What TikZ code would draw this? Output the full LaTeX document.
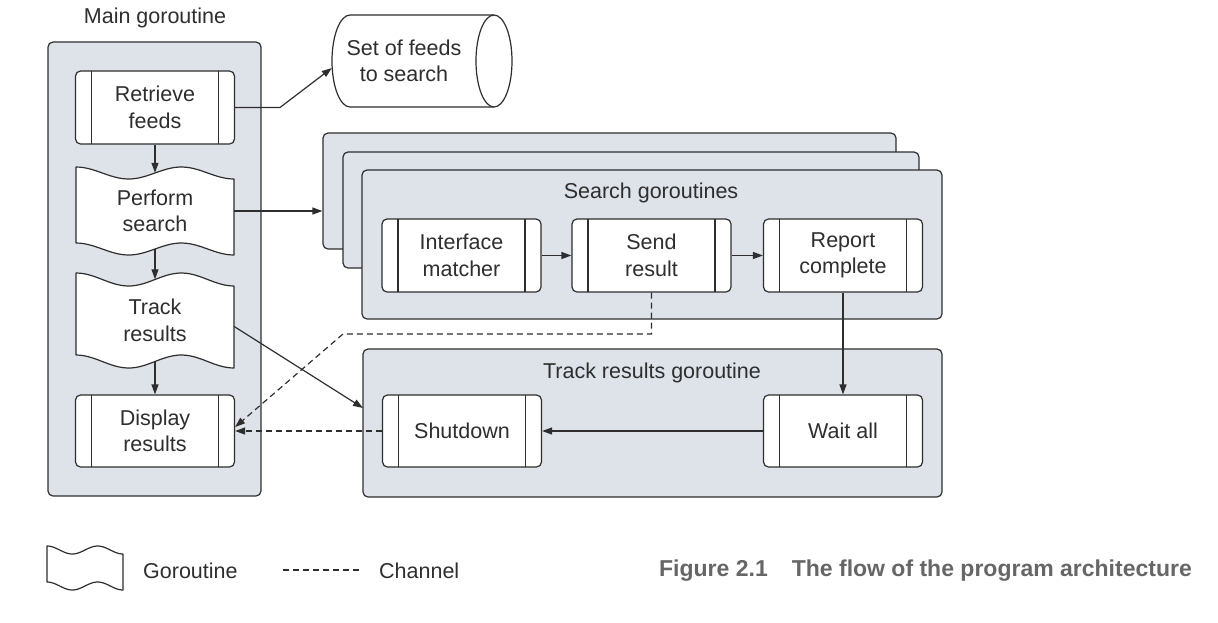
\documentclass[tikz,border=0pt]{standalone}
\usepackage{fontspec}
\setmainfont{Liberation Sans}
\usetikzlibrary{arrows.meta,calc}
\definecolor{gofill}{HTML}{DEE2E9}
\definecolor{ink}{HTML}{2E2E2E}
\definecolor{capgray}{HTML}{666666}
\newcommand\mainfs{\fontsize{21.5}{26.5}\selectfont}
\newcommand\capfs{\fontsize{23}{27}\selectfont\bfseries}
\newcommand\goshape[5]{%
  \filldraw[wave] plot[domain=0:1,samples=41] ({#1+\x*#3},{#2+#5*(1-cos(540*\x))/2})
   -- plot[domain=1:0,samples=41] ({#1+\x*#3},{#2+#4+#5*(1-cos(540*\x))/2}) -- cycle;}
\begin{document}
\begin{tikzpicture}[x=1pt,y=-1pt,
  every node/.style={text=ink,font=\mainfs},
  grp/.style={draw=ink,fill=gofill,rounded corners=5pt,line width=1.2pt,inner sep=0pt},
  proc/.style={draw=ink,fill=white,rounded corners=5pt,line width=1.2pt,inner sep=0pt,
    minimum width=159pt,minimum height=73pt,align=center,
    path picture={\draw[ink,line width=1.2pt]
      ([xshift=16pt]path picture bounding box.north west) -- ([xshift=16pt]path picture bounding box.south west)
      ([xshift=-16pt]path picture bounding box.north east) -- ([xshift=-16pt]path picture bounding box.south east);}},
  wave/.style={draw=ink,fill=white,line width=1.2pt,line join=round},
  txtbox/.style={inner sep=0pt,align=center},
  flow/.style={draw=ink,line width=1.2pt,-{Triangle[length=10pt,width=7pt]}},
  chan/.style={flow,dash pattern=on 6pt off 4pt},
]
\useasboundingbox (0,0) rectangle (1218,622);

% main goroutine
\node[grp,minimum width=213pt,minimum height=454pt] (maingrp) at (154.5,269) {};
\node (mainlbl) at (155,18) {Main goroutine};

% feeds cylinder
\filldraw[wave] (494,15) -- (350,15) .. controls (340.06,15) and (332,35.6) .. (332,61)
   .. controls (332,86.4) and (340.06,107) .. (350,107) -- (494,107);
\filldraw[wave] (494,61) ellipse [x radius=18, y radius=46];
\node[txtbox,minimum width=144pt,minimum height=92pt] (feeds) at (404,61) {Set of feeds\\to search};

% main steps
\node[proc] (retrieve) at (155,107.5) {Retrieve\\feeds};
\goshape{76}{167}{158}{76}{12}
\node[txtbox,minimum width=158pt,minimum height=76pt] (perform) at (155,211) {Perform\\search};
\goshape{76}{273}{158}{82}{13}
\node[txtbox,minimum width=158pt,minimum height=82pt] (track) at (155,320.5) {Track\\results};
\node[proc,minimum height=72pt] (display) at (155,431) {Display\\results};

% search goroutines stack
\node[grp,minimum width=573pt,minimum height=116pt] (searchback) at (609.5,191) {};
\node[grp,minimum width=576pt,minimum height=116pt] (searchmid) at (631,210) {};
\node[grp,minimum width=580pt,minimum height=149pt] (searchfront) at (652,244.5) {};
\node (searchlbl) at (651,193) {Search goroutines};
\node[proc] (interface) at (461.5,255.5) {Interface\\matcher};
\node[proc] (send) at (651.5,255.5) {Send\\result};
\node[proc] (report) at (843,255.5) {Report\\complete};

% track results goroutine
\node[grp,minimum width=579pt,minimum height=148pt] (trackgrp) at (652.5,423) {};
\node (tracklbl) at (652,373) {Track results goroutine};
\node[proc,minimum height=72pt] (shutdown) at (462,431) {Shutdown};
\node[proc,minimum height=72pt] (waitall) at (843,431) {Wait all};

% connectors
\coordinate (bend1) at (280,107.5);
\draw[flow] (retrieve.east) -- (bend1) -- ([yshift=-7pt]feeds.west);
\draw[flow] (retrieve.south) -- (perform.north);
\draw[flow] (perform.south) -- (track.north);
\draw[flow] (track.south) -- (display.north);
\draw[flow] (perform.east) -- (perform.east -| searchback.west);
\coordinate (trin) at (363,408);
\draw[flow] ([yshift=-6pt]track.east) -- (trin);
\draw[flow] (interface.east) -- (send.west);
\draw[flow] (send.east) -- (report.west);
\draw[flow] (report.south) -- (waitall.north);
\draw[flow] (waitall.west) -- (shutdown.east);
\draw[chan] (shutdown.west) -- (display.east);
\coordinate (ch1) at (651.5,334);
\coordinate (ch2) at (343,334);
\draw[chan] (send.south) -- (ch1) -- (ch2) -- ([yshift=4pt]display.east);

% legend
\goshape{47}{546}{76}{36}{8}
\node[anchor=west,inner sep=0pt] (leggo) at (143,571) {Goroutine};
\draw[ink,line width=1.2pt,dash pattern=on 6pt off 4pt] (283,570) -- (360,570);
\node[anchor=west,inner sep=0pt] (legch) at (379,571) {Channel};

% caption
\node[anchor=east,inner sep=0pt,text=capgray,font=\capfs] (caption) at (1192,571)
  {Figure 2.1\hspace{24pt}The flow of the program architecture};
\end{tikzpicture}
\end{document}
